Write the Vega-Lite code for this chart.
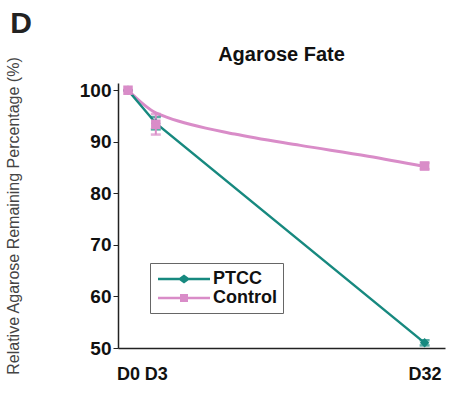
{
  "$schema": "https://vega.github.io/schema/vega-lite/v6.json",
  "background": "white",
  "padding": {"left": 5, "top": 9, "right": 2, "bottom": 5},
  "title": {"text": "D", "anchor": "start", "fontSize": 30, "font": "Liberation Sans", "fontWeight": "bold", "color": "#222", "offset": 6, "dx": 5},
  "config": {"view": {"stroke": null}, "font": "Liberation Sans"},
  "datasets": {
    "pts": [
      {"series": "PTCC", "day": 0, "value": 100, "err": 0},
      {"series": "PTCC", "day": 3, "value": 93.6, "err": 1.2},
      {"series": "PTCC", "day": 32, "value": 51, "err": 0.5},
      {"series": "Control", "day": 0, "value": 100, "err": 0},
      {"series": "Control", "day": 3, "value": 93.4, "err": 2},
      {"series": "Control", "day": 32, "value": 85.3, "err": 0.6}
    ],
    "fit": [
      {"day": 0, "value": 100},
      {"day": 3, "value": 95.6},
      {"day": 4.3, "value": 94.7},
      {"day": 11.5, "value": 91.5},
      {"day": 18.6, "value": 89.3},
      {"day": 25.9, "value": 87.2},
      {"day": 32, "value": 85.2}
    ]
  },
  "vconcat": [
    {
      "width": 327,
      "height": 265,
      "title": {"text": "Agarose Fate", "fontSize": 20, "fontWeight": "bold", "font": "Liberation Sans", "color": "#111", "offset": -9},
      "layer": [
        {
          "data": {"name": "fit"},
          "mark": {"type": "line", "interpolate": "monotone", "color": "#d98cc8", "strokeWidth": 3},
          "encoding": {
            "x": {"field": "day", "type": "quantitative", "title": null, "scale": {"domain": [-1.08, 34.2], "nice": false}},
            "y": {"field": "value", "type": "quantitative", "title": "Relative Agarose Remaining Percentage (%)", "scale": {"domain": [50, 101.4], "nice": false, "zero": false}}
          }
        },
        {
          "data": {"name": "pts"},
          "transform": [{"filter": "datum.series === 'PTCC'"}],
          "mark": {"type": "line", "strokeWidth": 2.5},
          "encoding": {
            "x": {"field": "day", "type": "quantitative", "title": null},
            "y": {"field": "value", "type": "quantitative", "title": "Relative Agarose Remaining Percentage (%)"},
            "color": {
              "field": "series", "type": "nominal",
              "scale": {"domain": ["PTCC", "Control"], "range": ["#17897f", "#d98cc8"]},
              "legend": {
                "title": null, "orient": "none", "legendX": 32, "legendY": 180,
                "strokeColor": "#666", "padding": 6, "fillColor": "white",
                "labelFontSize": 18, "labelFontWeight": "bold", "labelColor": "#111",
                "symbolSize": 400, "rowPadding": 0, "labelOffset": 19, "symbolOffset": 18,
                "encode": {
                  "symbols": {
                    "update": {
                      "shape": {"signal": "datum.value === 'PTCC' ? 'M-2.6,-0.13H-0.45L0,-0.45L0.45,-0.13H2.6V0.13H0.45L0,0.45L-0.45,0.13H-2.6Z' : 'M-2.6,-0.13H-0.4V-0.4H0.4V-0.13H2.6V0.13H0.4V0.4H-0.4V0.13H-2.6Z'"},
                      "fill": {"signal": "datum.value === 'PTCC' ? '#17897f' : '#d98cc8'"},
                      "strokeWidth": {"value": 0},
                      "opacity": {"value": 1}
                    }
                  }
                }
              }
            }
          }
        },
        {
          "data": {"name": "pts"},
          "transform": [{"filter": "datum.series === 'PTCC'"}],
          "mark": {"type": "errorbar", "color": "#17897f", "ticks": {"size": 10, "thickness": 2.5}, "thickness": 2},
          "encoding": {
            "x": {"field": "day", "type": "quantitative", "title": null},
            "y": {"field": "value", "type": "quantitative", "title": "Relative Agarose Remaining Percentage (%)"},
            "yError": {"field": "err"}
          }
        },
        {
          "data": {"name": "pts"},
          "transform": [{"filter": "datum.series === 'Control'"}],
          "mark": {"type": "errorbar", "color": "#d98cc8", "ticks": {"size": 10, "thickness": 2.5}, "thickness": 2},
          "encoding": {
            "x": {"field": "day", "type": "quantitative", "title": null},
            "y": {"field": "value", "type": "quantitative", "title": "Relative Agarose Remaining Percentage (%)"},
            "yError": {"field": "err"}
          }
        },
        {
          "data": {"name": "pts"},
          "transform": [{"filter": "datum.series === 'PTCC'"}],
          "mark": {"type": "point", "shape": "diamond", "filled": true, "size": 90, "opacity": 1, "color": "#17897f"},
          "encoding": {
            "x": {"field": "day", "type": "quantitative", "title": null},
            "y": {"field": "value", "type": "quantitative", "title": "Relative Agarose Remaining Percentage (%)"}
          }
        },
        {
          "data": {"name": "pts"},
          "transform": [{"filter": "datum.series === 'Control'"}],
          "mark": {"type": "point", "shape": "square", "filled": true, "size": 90, "opacity": 1, "color": "#d98cc8"},
          "encoding": {
            "x": {
              "field": "day", "type": "quantitative", "title": null,
              "axis": {"values": [0, 3, 32], "labelExpr": "'D' + datum.value", "labelFontSize": 18, "labelFontWeight": "bold", "labelColor": "#111", "labelOverlap": false, "ticks": false, "labelPadding": 17, "domainColor": "#222", "domainWidth": 1.5, "grid": false}
            },
            "y": {
              "field": "value", "type": "quantitative", "title": "Relative Agarose Remaining Percentage (%)",
              "axis": {"values": [50, 55, 60, 65, 70, 75, 80, 85, 90, 95, 100], "labelExpr": "datum.value % 10 === 0 ? datum.label : ''", "labelFontSize": 19, "labelFontWeight": "bold", "labelColor": "#111", "tickSize": {"condition": {"test": "datum.value % 10 === 0", "value": 5}, "value": 3}, "tickColor": "#222", "domainColor": "#222", "domainWidth": 1.5, "grid": false, "titleFontSize": 16, "titleFontWeight": "normal", "titleColor": "#444", "titlePadding": 58}
            }
          }
        }
      ]
    }
  ]
}
